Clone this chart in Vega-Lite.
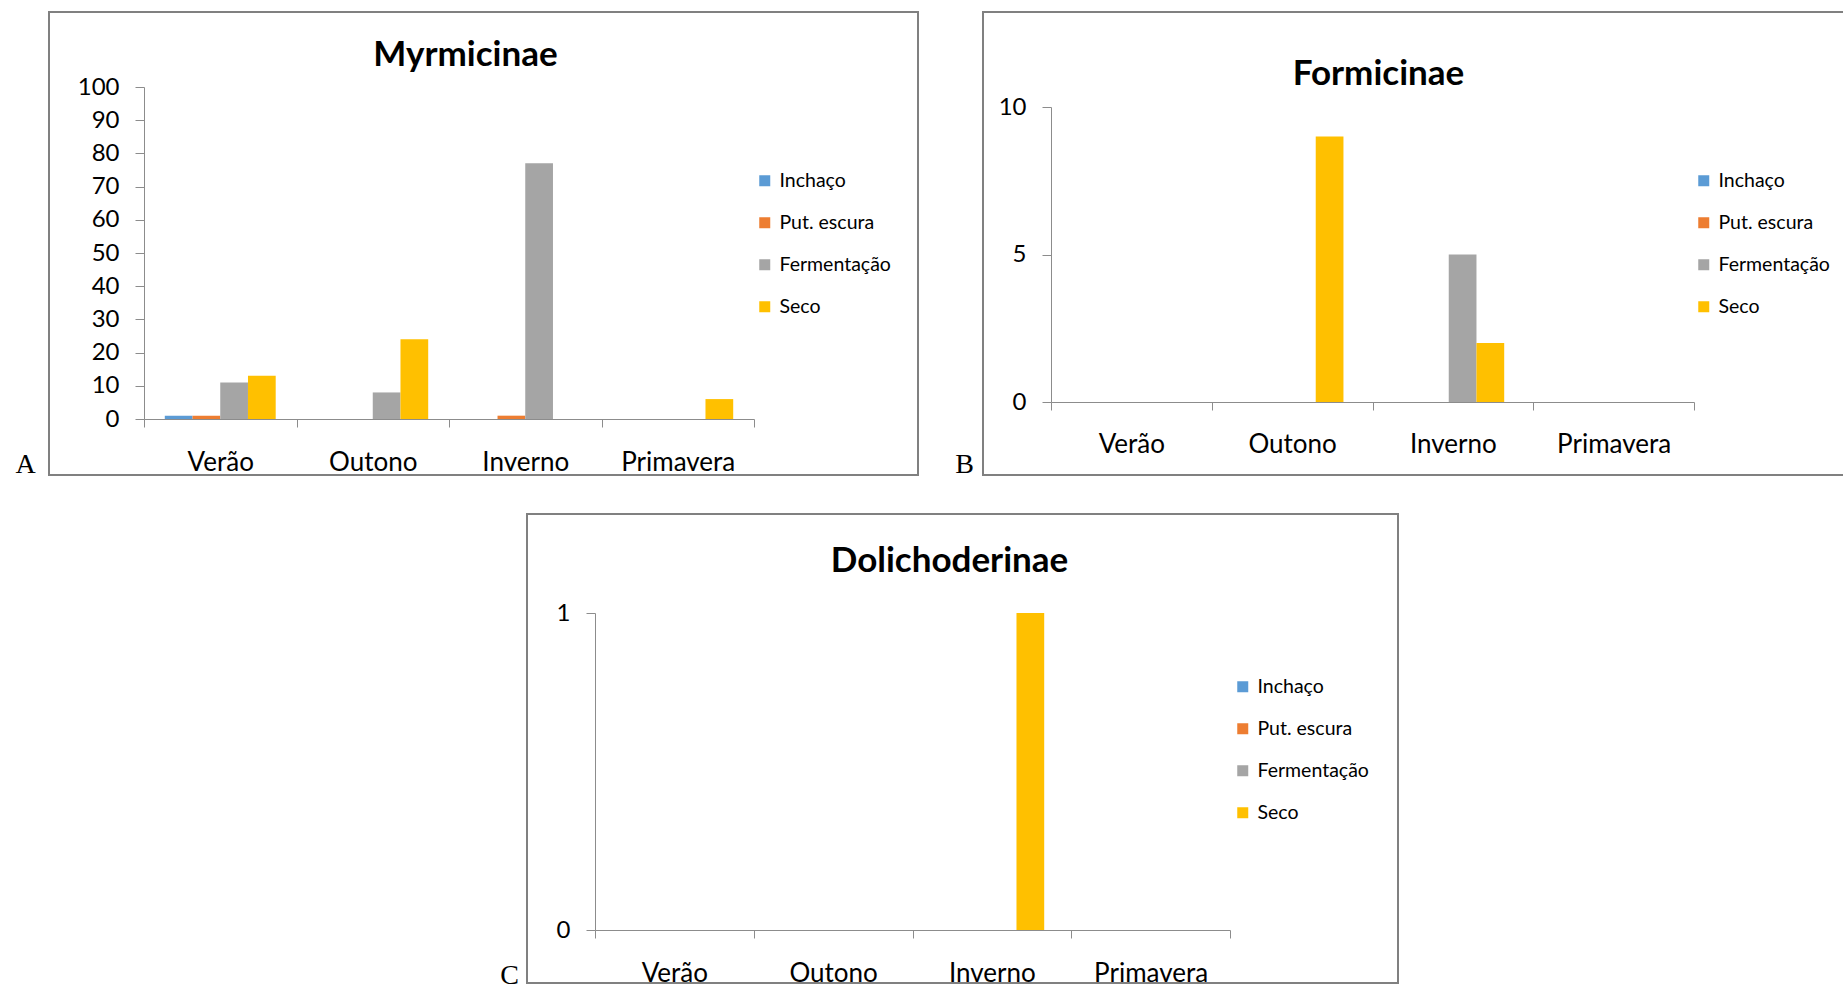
{
  "$schema": "https://vega.github.io/schema/vega-lite/v6.json",
  "background": "white",
  "padding": {"left": 13, "top": 11, "right": 0, "bottom": 0},
  "data": {
    "values": [
      {"subfamilia": "Myrmicinae", "estacao": "Verão", "tipo": "Inchaço", "n": 1},
      {"subfamilia": "Myrmicinae", "estacao": "Verão", "tipo": "Put. escura", "n": 1},
      {"subfamilia": "Myrmicinae", "estacao": "Verão", "tipo": "Fermentação", "n": 11},
      {"subfamilia": "Myrmicinae", "estacao": "Verão", "tipo": "Seco", "n": 13},
      {"subfamilia": "Myrmicinae", "estacao": "Outono", "tipo": "Inchaço", "n": 0},
      {"subfamilia": "Myrmicinae", "estacao": "Outono", "tipo": "Put. escura", "n": 0},
      {"subfamilia": "Myrmicinae", "estacao": "Outono", "tipo": "Fermentação", "n": 8},
      {"subfamilia": "Myrmicinae", "estacao": "Outono", "tipo": "Seco", "n": 24},
      {"subfamilia": "Myrmicinae", "estacao": "Inverno", "tipo": "Inchaço", "n": 0},
      {"subfamilia": "Myrmicinae", "estacao": "Inverno", "tipo": "Put. escura", "n": 1},
      {"subfamilia": "Myrmicinae", "estacao": "Inverno", "tipo": "Fermentação", "n": 77},
      {"subfamilia": "Myrmicinae", "estacao": "Inverno", "tipo": "Seco", "n": 0},
      {"subfamilia": "Myrmicinae", "estacao": "Primavera", "tipo": "Inchaço", "n": 0},
      {"subfamilia": "Myrmicinae", "estacao": "Primavera", "tipo": "Put. escura", "n": 0},
      {"subfamilia": "Myrmicinae", "estacao": "Primavera", "tipo": "Fermentação", "n": 0},
      {"subfamilia": "Myrmicinae", "estacao": "Primavera", "tipo": "Seco", "n": 6},
      {"subfamilia": "Formicinae", "estacao": "Verão", "tipo": "Inchaço", "n": 0},
      {"subfamilia": "Formicinae", "estacao": "Verão", "tipo": "Put. escura", "n": 0},
      {"subfamilia": "Formicinae", "estacao": "Verão", "tipo": "Fermentação", "n": 0},
      {"subfamilia": "Formicinae", "estacao": "Verão", "tipo": "Seco", "n": 0},
      {"subfamilia": "Formicinae", "estacao": "Outono", "tipo": "Inchaço", "n": 0},
      {"subfamilia": "Formicinae", "estacao": "Outono", "tipo": "Put. escura", "n": 0},
      {"subfamilia": "Formicinae", "estacao": "Outono", "tipo": "Fermentação", "n": 0},
      {"subfamilia": "Formicinae", "estacao": "Outono", "tipo": "Seco", "n": 9},
      {"subfamilia": "Formicinae", "estacao": "Inverno", "tipo": "Inchaço", "n": 0},
      {"subfamilia": "Formicinae", "estacao": "Inverno", "tipo": "Put. escura", "n": 0},
      {"subfamilia": "Formicinae", "estacao": "Inverno", "tipo": "Fermentação", "n": 5},
      {"subfamilia": "Formicinae", "estacao": "Inverno", "tipo": "Seco", "n": 2},
      {"subfamilia": "Formicinae", "estacao": "Primavera", "tipo": "Inchaço", "n": 0},
      {"subfamilia": "Formicinae", "estacao": "Primavera", "tipo": "Put. escura", "n": 0},
      {"subfamilia": "Formicinae", "estacao": "Primavera", "tipo": "Fermentação", "n": 0},
      {"subfamilia": "Formicinae", "estacao": "Primavera", "tipo": "Seco", "n": 0},
      {"subfamilia": "Dolichoderinae", "estacao": "Verão", "tipo": "Inchaço", "n": 0},
      {"subfamilia": "Dolichoderinae", "estacao": "Verão", "tipo": "Put. escura", "n": 0},
      {"subfamilia": "Dolichoderinae", "estacao": "Verão", "tipo": "Fermentação", "n": 0},
      {"subfamilia": "Dolichoderinae", "estacao": "Verão", "tipo": "Seco", "n": 0},
      {"subfamilia": "Dolichoderinae", "estacao": "Outono", "tipo": "Inchaço", "n": 0},
      {"subfamilia": "Dolichoderinae", "estacao": "Outono", "tipo": "Put. escura", "n": 0},
      {"subfamilia": "Dolichoderinae", "estacao": "Outono", "tipo": "Fermentação", "n": 0},
      {"subfamilia": "Dolichoderinae", "estacao": "Outono", "tipo": "Seco", "n": 0},
      {"subfamilia": "Dolichoderinae", "estacao": "Inverno", "tipo": "Inchaço", "n": 0},
      {"subfamilia": "Dolichoderinae", "estacao": "Inverno", "tipo": "Put. escura", "n": 0},
      {"subfamilia": "Dolichoderinae", "estacao": "Inverno", "tipo": "Fermentação", "n": 0},
      {"subfamilia": "Dolichoderinae", "estacao": "Inverno", "tipo": "Seco", "n": 1},
      {"subfamilia": "Dolichoderinae", "estacao": "Primavera", "tipo": "Inchaço", "n": 0},
      {"subfamilia": "Dolichoderinae", "estacao": "Primavera", "tipo": "Put. escura", "n": 0},
      {"subfamilia": "Dolichoderinae", "estacao": "Primavera", "tipo": "Fermentação", "n": 0},
      {"subfamilia": "Dolichoderinae", "estacao": "Primavera", "tipo": "Seco", "n": 0}
    ]
  },
  "config": {
    "font": "Lato",
    "view": {"stroke": "#808080", "strokeWidth": 2},
    "bar": {"strokeWidth": 0},
    "axis": {
      "grid": false,
      "domainColor": "#8c8c8c",
      "tickColor": "#8c8c8c",
      "domainWidth": 1,
      "tickWidth": 1,
      "labelFont": "Lato",
      "labelFontSize": 24,
      "labelColor": "#000000",
      "titleFont": "Liberation Serif",
      "titleFontSize": 28,
      "titleFontWeight": "normal",
      "titleColor": "#000000"
    },
    "axisX": {"tickSize": 8, "labelAngle": 0, "labelFontSize": 26, "tickBand": "extent", "titleAlign": "center", "titleBaseline": "middle"},
    "axisY": {"tickSize": 9, "labelPadding": 16},
    "legend": {
      "orient": "none",
      "title": null,
      "symbolType": "square",
      "symbolSize": 121,
      "symbolStrokeWidth": 0,
      "labelFont": "Lato",
      "labelFontSize": 19.5,
      "labelColor": "#000000",
      "labelOffset": 5,
      "rowPadding": 21,
      "padding": 0
    },
    "title": {"font": "Lato", "fontSize": 35, "fontWeight": "bold", "color": "#000000", "anchor": "middle", "frame": "group", "offset": 0, "baseline": "middle"}
  },
  "spacing": 34,
  "resolve": {"scale": {"color": "independent"}, "legend": {"color": "independent"}},
  "vconcat": [
    {
      "bounds": "flush",
      "spacing": 65,
      "resolve": {"scale": {"color": "independent"}, "legend": {"color": "independent"}},
      "hconcat": [
        {
          "width": 869,
          "height": 463,
          "title": {"text": "Myrmicinae", "dx": -18, "dy": 65},
          "transform": [{"filter": "datum.subfamilia === 'Myrmicinae'"}],
          "mark": {"type": "bar"},
          "encoding": {
            "x": {
              "field": "estacao", "type": "nominal",
              "scale": {"domain": ["Verão", "Outono", "Inverno", "Primavera"], "range": [95, 705], "paddingInner": 0, "paddingOuter": 0},
              "axis": {"title": "A", "offset": -56, "labelPadding": 22, "titleX": -24, "titleY": 45}
            },
            "xOffset": {
              "field": "tipo", "type": "nominal",
              "scale": {"domain": ["Inchaço", "Put. escura", "Fermentação", "Seco"], "paddingInner": 0, "paddingOuter": 0.75}
            },
            "y": {
              "field": "n", "type": "quantitative",
              "scale": {"domain": [0, 100], "range": [407, 75], "nice": false, "zero": true},
              "axis": {"title": null, "offset": -95, "values": [0, 10, 20, 30, 40, 50, 60, 70, 80, 90, 100]}
            },
            "color": {
              "field": "tipo", "type": "nominal",
              "scale": {"domain": ["Inchaço", "Put. escura", "Fermentação", "Seco"], "range": ["#5B9BD5", "#ED7D31", "#A5A5A5", "#FFC000"]},
              "legend": {"legendX": 706, "legendY": 159}
            }
          }
        },
        {
          "width": 861,
          "height": 463,
          "title": {"text": "Formicinae", "dx": -35, "dy": 84},
          "transform": [{"filter": "datum.subfamilia === 'Formicinae'"}],
          "mark": {"type": "bar"},
          "encoding": {
            "x": {
              "field": "estacao", "type": "nominal",
              "scale": {"domain": ["Verão", "Outono", "Inverno", "Primavera"], "range": [68, 711], "paddingInner": 0, "paddingOuter": 0},
              "axis": {"title": "B", "offset": -73, "labelPadding": 21, "titleX": -19, "titleY": 62}
            },
            "xOffset": {
              "field": "tipo", "type": "nominal",
              "scale": {"domain": ["Inchaço", "Put. escura", "Fermentação", "Seco"], "paddingInner": 0, "paddingOuter": 0.72}
            },
            "y": {
              "field": "n", "type": "quantitative",
              "scale": {"domain": [0, 10], "range": [390, 95], "nice": false, "zero": true},
              "axis": {"title": null, "offset": -68, "values": [0, 5, 10]}
            },
            "color": {
              "field": "tipo", "type": "nominal",
              "scale": {"domain": ["Inchaço", "Put. escura", "Fermentação", "Seco"], "range": ["#5B9BD5", "#ED7D31", "#A5A5A5", "#FFC000"]},
              "legend": {"legendX": 711, "legendY": 159}
            }
          }
        }
      ]
    },
    {
      "bounds": "flush",
      "spacing": 0,
      "resolve": {"scale": {"color": "independent"}, "legend": {"color": "independent"}},
      "hconcat": [
        {
          "width": 478,
          "height": 1,
          "data": {"values": []},
          "mark": {"type": "point"},
          "view": {"stroke": null}
        },
        {
          "width": 871,
          "height": 469,
          "title": {"text": "Dolichoderinae", "dx": -13, "dy": 69},
          "transform": [{"filter": "datum.subfamilia === 'Dolichoderinae'"}],
          "mark": {"type": "bar"},
          "encoding": {
            "x": {
              "field": "estacao", "type": "nominal",
              "scale": {"domain": ["Verão", "Outono", "Inverno", "Primavera"], "range": [68, 703], "paddingInner": 0, "paddingOuter": 0},
              "axis": {"title": "C", "offset": -53, "labelPadding": 22, "titleX": -18, "titleY": 45}
            },
            "xOffset": {
              "field": "tipo", "type": "nominal",
              "scale": {"domain": ["Inchaço", "Put. escura", "Fermentação", "Seco"], "paddingInner": 0, "paddingOuter": 0.8}
            },
            "y": {
              "field": "n", "type": "quantitative",
              "scale": {"domain": [0, 1], "range": [416, 99], "nice": false, "zero": true},
              "axis": {"title": null, "offset": -68, "values": [0, 1], "format": "d"}
            },
            "color": {
              "field": "tipo", "type": "nominal",
              "scale": {"domain": ["Inchaço", "Put. escura", "Fermentação", "Seco"], "range": ["#5B9BD5", "#ED7D31", "#A5A5A5", "#FFC000"]},
              "legend": {"legendX": 706, "legendY": 163}
            }
          }
        }
      ]
    }
  ]
}
